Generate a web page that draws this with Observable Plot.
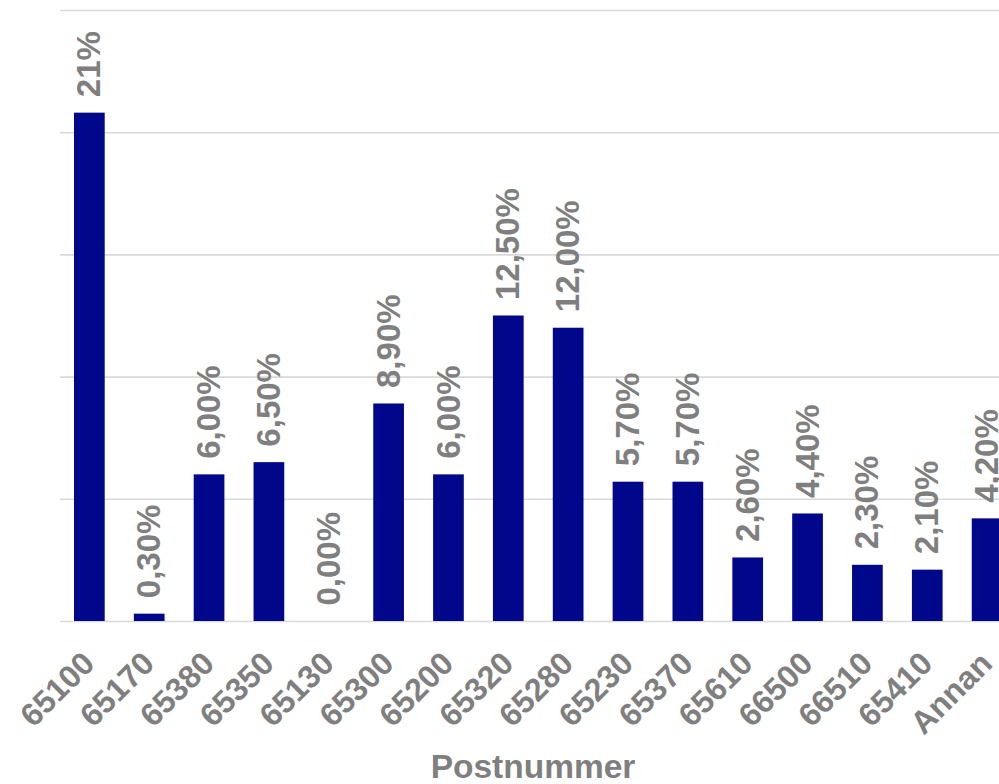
<!DOCTYPE html>
<html>
<head>
<meta charset="utf-8">
<script src="https://cdn.jsdelivr.net/npm/d3@7"></script>
<script src="https://cdn.jsdelivr.net/npm/@observablehq/plot@0.6"></script>
<style>
  html, body { margin: 0; padding: 0; background: #fff; overflow: hidden; }
  #chart { width: 999px; height: 784px; overflow: hidden; }
</style>
</head>
<body>
<div id="chart"></div>
<script>
const categories = ["65100","65170","65380","65350","65130","65300","65200","65320","65280","65230","65370","65610","66500","66510","65410","Annan"];
const values = [20.8, 0.3, 6.0, 6.5, 0.0, 8.9, 6.0, 12.5, 12.0, 5.7, 5.7, 2.6, 4.4, 2.3, 2.1, 4.2];
const valueLabels = ["21%","0,30%","6,00%","6,50%","0,00%","8,90%","6,00%","12,50%","12,00%","5,70%","5,70%","2,60%","4,40%","2,30%","2,10%","4,20%"];
const gridTicks = [0, 5, 10, 15, 20, 25];
const axisTitle = "Postnummer";

const data = categories.map((c, i) => ({cat: c, value: values[i], label: valueLabels[i]}));

const gray = "#7f7f7f";
const font = "'Liberation Sans', Arial, Helvetica, sans-serif";

const W = 999, H = 784;
const mLeft = 60, mRight = 0, mTop = 10, mBottom = 163;

const chart = Plot.plot({
  width: W,
  height: H,
  marginLeft: mLeft,
  marginRight: mRight,
  marginTop: mTop,
  marginBottom: mBottom,
  style: {fontFamily: font, background: "#fff"},
  x: {type: "band", domain: categories, range: [44.85, 1031.6], padding: 0.487, round: false, axis: null},
  y: {domain: [0, 25], axis: null},
  marks: [
    Plot.gridY(gridTicks, {stroke: "#d9d9d9", strokeOpacity: 1, strokeWidth: 1.6}),
    Plot.barY(data, {x: "cat", y: "value", fill: "#00078b"}),
    Plot.text(data, {
      x: "cat", y: "value", text: "label",
      rotate: -90, textAnchor: "start", lineAnchor: "middle",
      dy: -16, fontSize: 33, fontWeight: "bold", fill: gray
    }),
    Plot.text(categories, {
      x: d => d, frameAnchor: "bottom", text: d => d,
      rotate: -45, textAnchor: "end", lineAnchor: "bottom",
      dx: 6.5, dy: 44, fontSize: 32, fontWeight: "bold", fill: gray
    }),
    Plot.text([axisTitle], {
      frameAnchor: "bottom", text: d => d,
      textAnchor: "middle", lineAnchor: "bottom",
      dx: 532.5 - (mLeft + (W - mRight)) / 2, dy: 156,
      fontSize: 33.5, fontWeight: "bold", fill: gray
    })
  ]
});

document.getElementById("chart").appendChild(chart);
</script>
</body>
</html>
